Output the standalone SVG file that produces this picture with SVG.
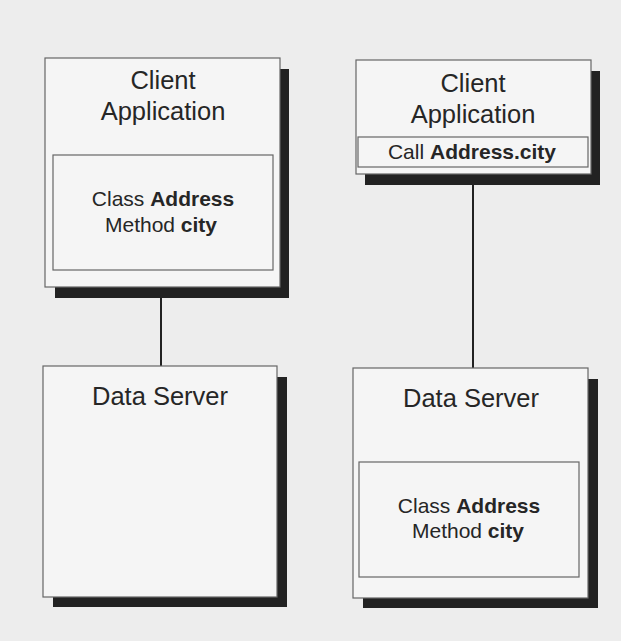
<svg xmlns="http://www.w3.org/2000/svg" width="621" height="641" viewBox="0 0 621 641">
  <style>
    .bg { fill: #ededed; }
    .shadow { fill: #222222; }
    .box { fill: #f5f5f5; stroke: #666666; stroke-width: 1.2; }
    .inner { fill: #f5f5f5; stroke: #666666; stroke-width: 1.2; }
    .title { font-family: "Liberation Sans", Arial, sans-serif; font-size: 25.5px; fill: #262626; text-anchor: middle; }
    .label { font-family: "Liberation Sans", Arial, sans-serif; font-size: 21px; fill: #262626; text-anchor: middle; }
    .b { font-weight: bold; }
    .link { stroke: #222222; stroke-width: 2; fill: none; }
  </style>
  <rect class="bg" x="0" y="0" width="621" height="641"/>

  <g id="connectors">
    <line class="link" x1="161" y1="287" x2="161" y2="367"/>
    <line class="link" x1="473" y1="174" x2="473" y2="369"/>
  </g>

  <g id="client-left">
    <rect class="shadow" x="55" y="69" width="234" height="229"/>
    <rect class="box" x="45" y="58" width="235" height="229"/>
    <text class="title" x="163" y="89">Client</text>
    <text class="title" x="163" y="120">Application</text>
    <rect class="inner" x="53" y="155" width="220" height="115"/>
    <text class="label" x="163" y="206">Class <tspan class="b">Address</tspan></text>
    <text class="label" x="161" y="232">Method <tspan class="b">city</tspan></text>
  </g>

  <g id="server-left">
    <rect class="shadow" x="53" y="377" width="234" height="230"/>
    <rect class="box" x="43" y="366" width="234" height="231"/>
    <text class="title" x="160" y="405">Data Server</text>
  </g>

  <g id="client-right">
    <rect class="shadow" x="365" y="71" width="235" height="114"/>
    <rect class="box" x="356" y="60" width="235" height="114"/>
    <text class="title" x="473" y="92">Client</text>
    <text class="title" x="473" y="123">Application</text>
    <rect class="inner" x="358" y="137" width="230" height="30"/>
    <text class="label" x="472" y="159">Call <tspan class="b">Address.city</tspan></text>
  </g>

  <g id="server-right">
    <rect class="shadow" x="363" y="379" width="235" height="229"/>
    <rect class="box" x="353" y="368" width="235" height="230"/>
    <text class="title" x="471" y="407">Data Server</text>
    <rect class="inner" x="359" y="462" width="220" height="115"/>
    <text class="label" x="469" y="513">Class <tspan class="b">Address</tspan></text>
    <text class="label" x="468" y="538">Method <tspan class="b">city</tspan></text>
  </g>
</svg>
